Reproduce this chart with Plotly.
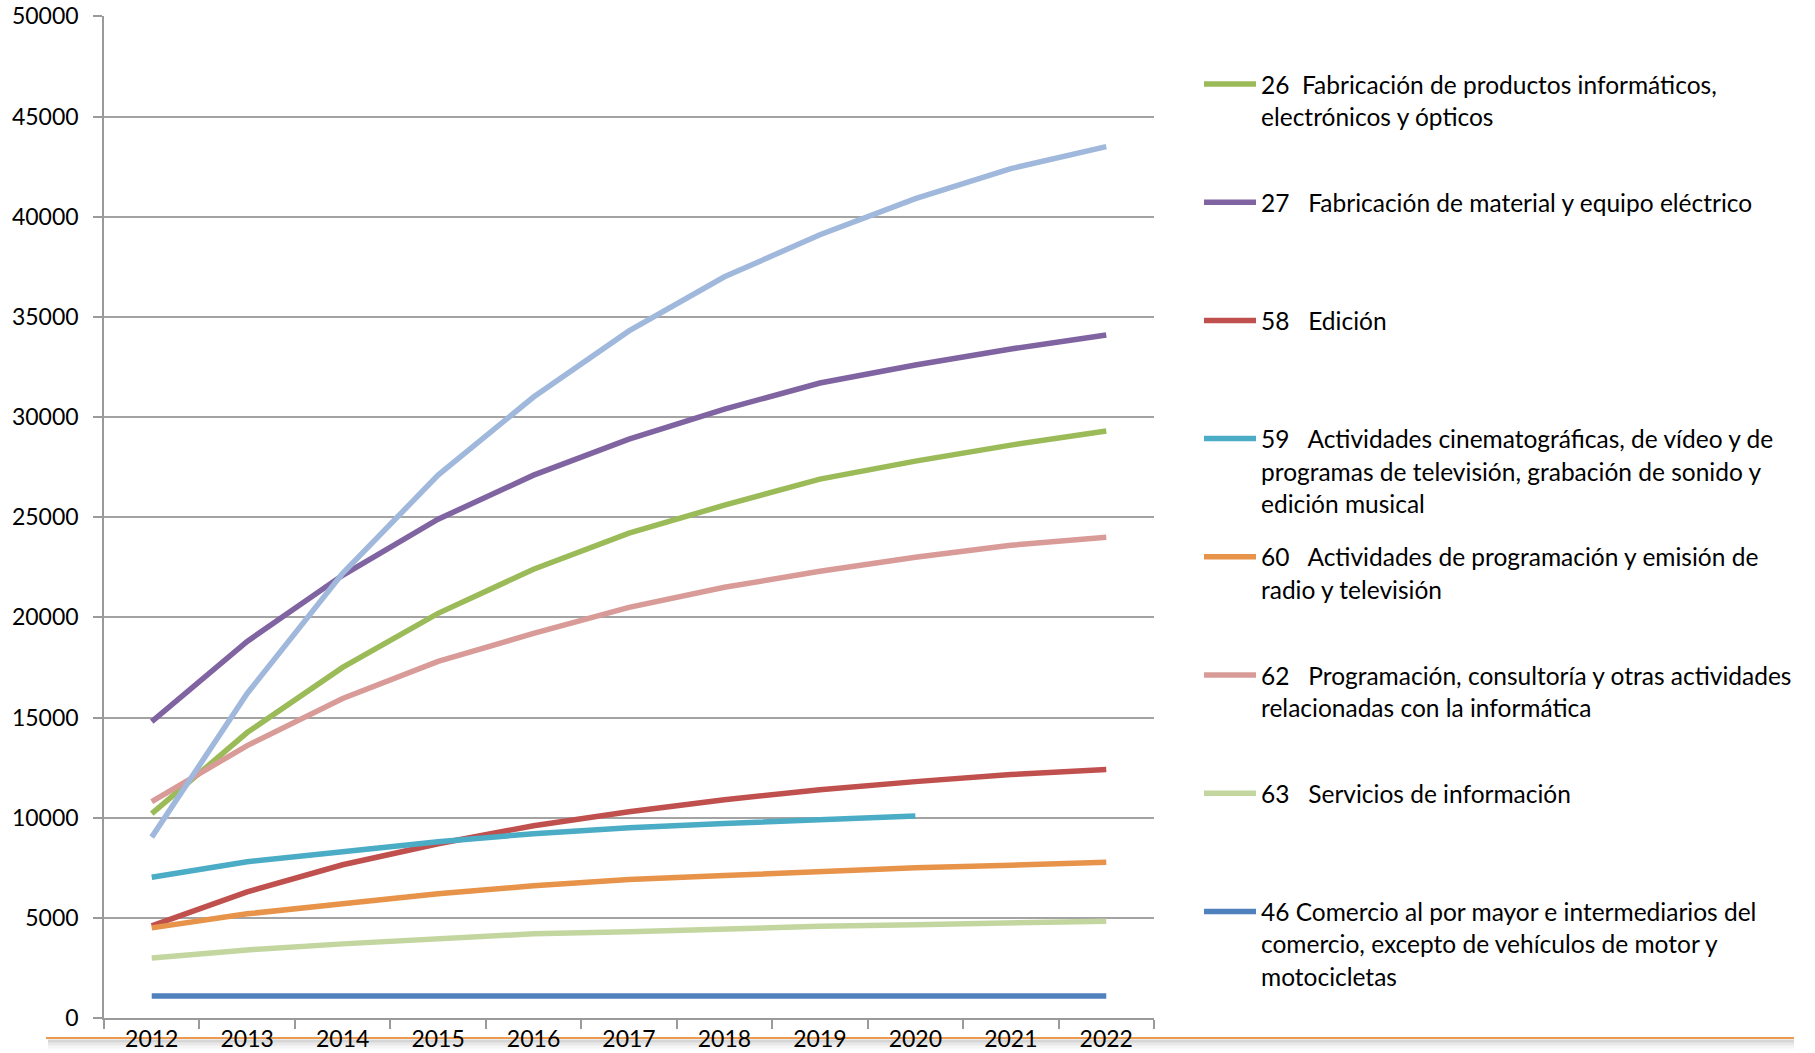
import plotly.graph_objects as go

# Years on the horizontal axis
years = ["2012", "2013", "2014", "2015", "2016", "2017", "2018", "2019", "2020", "2021", "2022"]

# Y-axis tick values
y_ticks = [0, 5000, 10000, 15000, 20000, 25000, 30000, 35000, 40000, 45000, 50000]

# Series values (one list per sector)
s46 = [1100, 1100, 1100, 1100, 1100, 1100, 1100, 1100, 1100, 1100, 1100]
s58 = [4600, 6300, 7650, 8700, 9600, 10300, 10900, 11400, 11800, 12150, 12400]
s26 = [10200, 14250, 17500, 20200, 22400, 24200, 25600, 26900, 27800, 28600, 29300]
s27 = [14800, 18800, 22100, 24900, 27100, 28900, 30400, 31700, 32600, 33400, 34100]
s59 = [7030, 7800, 8300, 8800, 9200, 9500, 9710, 9880, 10080, None, None]
s60 = [4500, 5200, 5700, 6200, 6600, 6910, 7110, 7320, 7500, 7630, 7770]
s62 = [10800, 13600, 15950, 17800, 19200, 20500, 21500, 22300, 23000, 23600, 24000]
s63 = [3000, 3400, 3700, 3950, 4200, 4300, 4460, 4580, 4660, 4750, 4830]
s_extra = [9030, 16200, 22200, 27100, 31000, 34300, 37000, 39100, 40900, 42400, 43500]

# Legend labels, already broken into lines
lab26 = ["26\u00a0\u00a0Fabricación de productos informáticos,", "electrónicos y ópticos"]
lab27 = ["27\u00a0\u00a0\u00a0Fabricación de material y equipo eléctrico"]
lab58 = ["58\u00a0\u00a0\u00a0Edición"]
lab59 = ["59\u00a0\u00a0\u00a0Actividades cinematográficas, de vídeo y de",
         "programas de televisión, grabación de sonido y", "edición musical"]
lab60 = ["60\u00a0\u00a0\u00a0Actividades de programación y emisión de", "radio y televisión"]
lab62 = ["62\u00a0\u00a0\u00a0Programación, consultoría y otras actividades",
         "relacionadas con la informática"]
lab63 = ["63\u00a0\u00a0\u00a0Servicios de información"]
lab46 = ["46 Comercio al por mayor e intermediarios del",
         "comercio, excepto de vehículos de motor y", "motocicletas"]

C46 = "#4f81bd"
C58 = "#c0504d"
C26 = "#9bbb59"
C27 = "#8064a2"
C59 = "#4bacc6"
C60 = "#e8934a"
C62 = "#d99b98"
C63 = "#c3d69f"
CEXTRA = "#a0b8db"

FONT = "Lato"
W, H = 1815, 1053
ML, MR, MT, MB = 104, 661, 16, 35
PW = W - ML - MR
PH = H - MT - MB

fig = go.Figure()

draw_order = [
    (s46, C46), (s58, C58), (s26, C26), (s27, C27), (s59, C59),
    (s60, C60), (s62, C62), (s63, C63), (s_extra, CEXTRA),
]
for vals, col in draw_order:
    fig.add_trace(go.Scatter(
        x=years, y=vals, mode="lines",
        line=dict(color=col, width=5.5),
        showlegend=False, hoverinfo="skip",
    ))

def px_to_paper(px, py):
    return (px - ML) / PW, (H - MB - py) / PH

# Hand-built legend on the right
legend_entries = [
    (lab26, C26), (lab27, C27), (lab58, C58), (lab59, C59),
    (lab60, C60), (lab62, C62), (lab63, C63), (lab46, C46),
]
first_y = 84
step = 118.2
line_h = 32.4
for i, (lines, col) in enumerate(legend_entries):
    cy = first_y + i * step
    x0, y0 = px_to_paper(1204, cy)
    x1, _ = px_to_paper(1256, cy)
    fig.add_shape(type="line", xref="paper", yref="paper",
                  x0=x0, x1=x1, y0=y0, y1=y0,
                  line=dict(color=col, width=5.5))
    for j, txt in enumerate(lines):
        tx, ty = px_to_paper(1259, cy + j * line_h)
        fig.add_annotation(xref="paper", yref="paper", x=tx, y=ty,
                           xanchor="left", yanchor="middle", showarrow=False,
                           text=txt, font=dict(family=FONT, size=24.5, color="#000000"))

# Orange rule along the bottom with a soft shadow
for k, op in enumerate([0.16, 0.09, 0.04]):
    sx0, sy = px_to_paper(48, 1041 + k * 3)
    sx1, _ = px_to_paper(1794, 1041 + k * 3)
    fig.add_shape(type="line", xref="paper", yref="paper",
                  x0=sx0, x1=sx1, y0=sy, y1=sy, layer="below",
                  line=dict(color="rgba(0,0,0,%.2f)" % op, width=3))
ox0, oy = px_to_paper(46, 1038)
ox1, _ = px_to_paper(1794, 1038)
fig.add_shape(type="line", xref="paper", yref="paper",
              x0=ox0, x1=ox1, y0=oy, y1=oy, layer="below",
              line=dict(color="#ec9a50", width=2))

fig.update_layout(
    width=W, height=H,
    margin=dict(l=ML, r=MR, t=MT, b=MB, pad=0, autoexpand=False),
    paper_bgcolor="white", plot_bgcolor="white",
    font=dict(family=FONT, size=23.5, color="#000000"),
    showlegend=False,
    xaxis=dict(
        type="category", range=[-0.5, 10.5], automargin=False,
        showgrid=False, showline=True, linecolor="#9a9a9a", linewidth=1.5,
        ticks="outside", tickson="boundaries", ticklen=9, tickcolor="#9a9a9a",
        tickwidth=1.5, ticklabelstandoff=0,
        tickfont=dict(family=FONT, size=23, color="#000000"),
        zeroline=False, fixedrange=True,
    ),
    yaxis=dict(
        range=[0, 50020], tickmode="array", tickvals=y_ticks,
        ticktext=[str(v) for v in y_ticks], automargin=False,
        showgrid=True, gridcolor="#a3a3a3", gridwidth=1.5,
        showline=True, linecolor="#9a9a9a", linewidth=1.5,
        ticks="outside", ticklen=9, tickcolor="#9a9a9a", tickwidth=1.5,
        ticklabelstandoff=10,
        tickfont=dict(family=FONT, size=23, color="#000000"),
        zeroline=False, fixedrange=True,
    ),
)

fig.write_html("out.html", config={"displayModeBar": False})
